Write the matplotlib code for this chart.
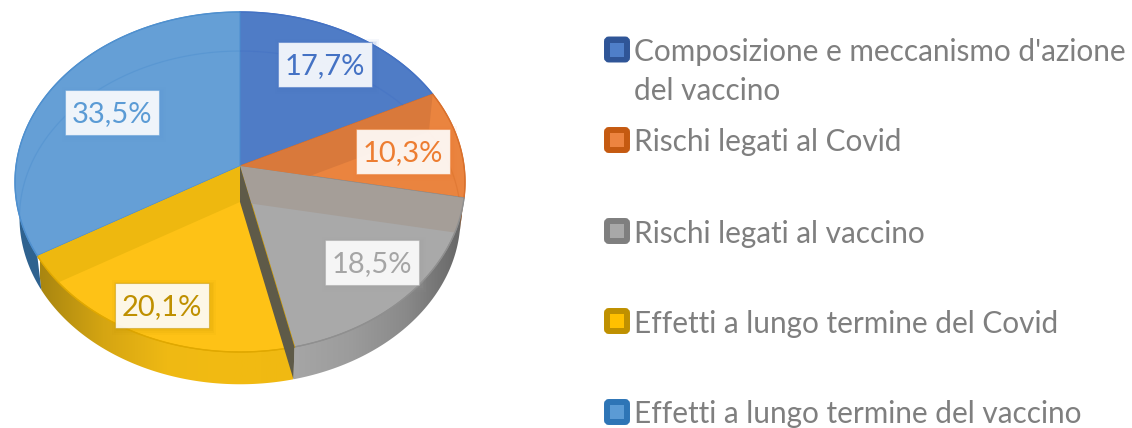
import numpy as np
import matplotlib
matplotlib.use('Agg')
import matplotlib.pyplot as plt
from matplotlib.colors import LinearSegmentedColormap, to_rgba
from matplotlib.patches import FancyBboxPatch, Polygon, Rectangle

plt.rcParams['font.family'] = ['Lato', 'DejaVu Sans']

categories = [
    "Composizione e meccanismo d'azione\ndel vaccino",
    "Rischi legati al Covid",
    "Rischi legati al vaccino",
    "Effetti a lungo termine del Covid",
    "Effetti a lungo termine del vaccino",
]
values = [17.7, 10.3, 18.5, 20.1, 33.5]
labels = ["17,7%", "10,3%", "18,5%", "20,1%", "33,5%"]

# top face, text, legend border, legend fill
face_colors = ['#4f7cc6', '#ea843f', '#a9a9a9', '#fec216', '#659fd6']
edge_colors = ['#4472c4', '#d9702c', '#8f8f8f', '#e0a800', '#4f90cf']
text_colors = ['#4472c4', '#ed7d31', '#a5a5a5', '#bf9000', '#5b9bd5']
legend_edge = ['#2f5597', '#c55a11', '#7f7f7f', '#bf9000', '#2e75b6']
legend_fill = ['#4f7fc9', '#ed8440', '#a8a8a8', '#ffc000', '#5b9bd5']

label_centers = [(325, 64), (403, 151), (372, 262), (162, 305), (112, 112)]
legend_y = [49.5, 140, 231, 321, 412]

CX, CY = 240, 166
A, B, K = 224, 168.5, 0.094
DROP, SHRINK = 36, 0.98
LEGEND_SIZE = 21.4
LABEL_SIZE = 21


def top(theta):
    """Pie angle (clockwise from north) to pixel on the tilted top face."""
    x, y = np.sin(theta), np.cos(theta)
    w = 1 + K * y
    return np.column_stack([CX + A * x / w, CY - B * y / w])


def low(theta):
    """Same angle on the bottom face of the disc."""
    p = top(theta)
    return np.column_stack([CX + SHRINK * (p[:, 0] - CX),
                            CY + DROP + SHRINK * (p[:, 1] - CY)])


def arc(start, end, n=120):
    return np.linspace(start, end, n)


fig = plt.figure(figsize=(11.32, 4.28), dpi=100)
ax = fig.add_axes([0, 0, 1, 1])

edges = 2 * np.pi * np.concatenate([[0], np.cumsum(values)]) / sum(values)
apex = np.array([[CX, CY]])
apex_low = np.array([[CX, CY + DROP]])


def wall_quad(i):
    t = edges[[i]]
    return np.vstack([apex, top(t), low(t), apex_low])


def gradient(path_pts, stops, x0, x1):
    cmap = LinearSegmentedColormap.from_list('wall', stops)
    img = ax.imshow(np.linspace(0, 1, 256)[None, :], cmap=cmap, aspect='auto',
                    extent=(x0, x1, 428, 0), zorder=1)
    img.set_clip_path(Polygon(path_pts, transform=ax.transData))


# outer wall of the disc
def side(i):
    t = arc(edges[i], edges[i + 1])
    return np.vstack([top(t), low(t)[::-1]])


gradient(side(2), ['#a6a6a6', '#9c9c9c', '#8a8a8a', '#666666'], 293, 462)
gradient(side(3), ['#a98610', '#d5a512', '#efb914', '#f2bb12', '#f0b912'], 40, 293)
ax.add_patch(Polygon(side(4), fc='#2f628f', ec='none', zorder=1))
ax.add_patch(Polygon(side(1), fc='#9a5a2a', ec='none', zorder=1))

# top face
slices = []
for i, color in enumerate(face_colors):
    t = arc(edges[i], edges[i + 1])
    pts = np.vstack([apex, top(t)])
    patch = Polygon(pts, fc=color, ec=edge_colors[i], lw=0.8, zorder=2)
    ax.add_patch(patch)
    slices.append(patch)

# inner walls showing through the translucent top
for edge, owner, color in [(1, 1, '#d9793b'), (2, 2, '#a59e98'), (4, 3, '#eeb80f')]:
    quad = Polygon(wall_quad(edge), fc=color, ec='none', zorder=3)
    ax.add_patch(quad)
    quad.set_clip_path(slices[owner])

# bottom rim seen through the top
for i, color in enumerate(edge_colors):
    t = arc(edges[i], edges[i + 1])
    line, = ax.plot(*low(t).T, color=color, lw=0.9, alpha=0.5, zorder=4)
    line.set_clip_path(slices[i])
    ax.plot(*top(t).T, color=color, lw=1.0, zorder=4)

ax.add_patch(Polygon(wall_quad(3), fc='#5e5a48', ec='none', zorder=5))

# data labels
for (x, y), text, color in zip(label_centers, labels, text_colors):
    for grow, shade in [(5, 0.05), (3, 0.07), (1.5, 0.09)]:
        ax.add_patch(Rectangle((x - 47 - grow + 2, y - 22.5 - grow + 2),
                               94 + 2 * grow, 45 + 2 * grow, fc=color, alpha=shade,
                               ec='none', zorder=6))
    ax.add_patch(Rectangle((x - 47, y - 22.5), 94, 45, fc=(1, 1, 1, 0.9),
                           ec=to_rgba(color, 0.45), lw=0.8, zorder=6))
    ax.text(x, y, text, color=color, fontsize=LABEL_SIZE, ha='center',
            va='center_baseline', zorder=7)

# legend
for y, name, ec, fc in zip(legend_y, categories, legend_edge, legend_fill):
    ax.add_patch(FancyBboxPatch((607, y - 10), 20, 20, boxstyle='round,pad=0,rounding_size=2',
                                fc=ec, ec=ec, lw=4.3, zorder=2))
    ax.add_patch(Rectangle((610, y - 7), 14, 14, fc=fc, ec='none', zorder=3))
    for n, part in enumerate(name.split('\n')):
        ax.text(634, y + n * 39, part, color='#7f7f7f', fontsize=LEGEND_SIZE,
                ha='left', va='center_baseline')

ax.set_xlim(0, 1132)
ax.set_ylim(428, 0)
ax.axis('off')
fig.savefig('out.png', dpi=100)
